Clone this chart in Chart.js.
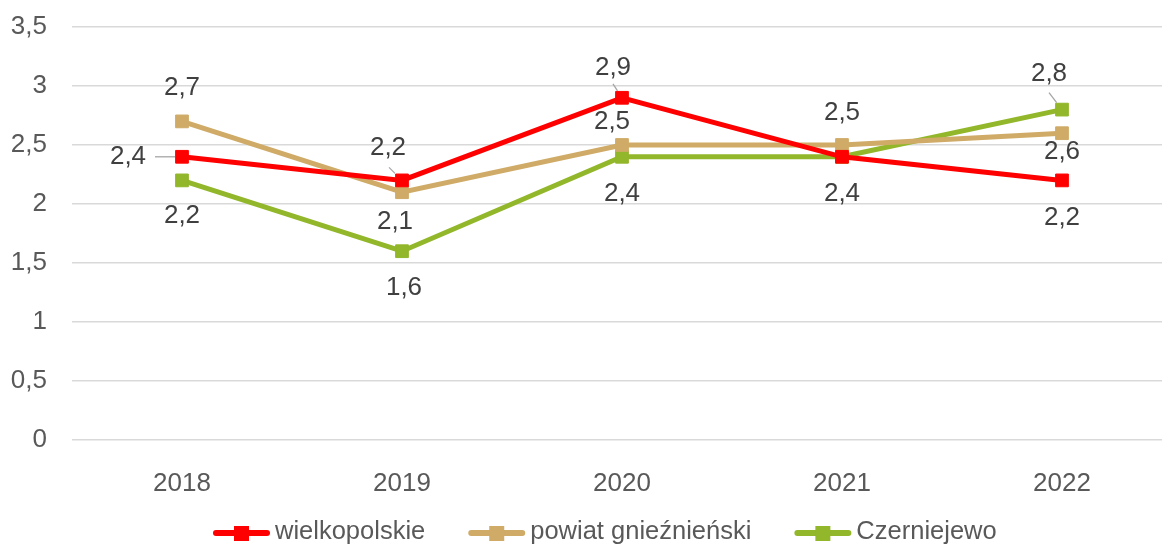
<!DOCTYPE html>
<html>
<head>
<meta charset="utf-8">
<script src="https://cdn.jsdelivr.net/npm/chart.js@4"></script>
<style>
  html, body { margin: 0; padding: 0; background: #fff; overflow: hidden; }
  #wrap { position: absolute; left: 0; top: 0; width: 1175px; height: 544px; }
</style>
</head>
<body>
<div id="wrap"><canvas id="mainChart"></canvas></div>
<script>
// ============ DATA ============

const years = ['2018', '2019', '2020', '2021', '2022'];
const seriesNames = ['wielkopolskie', 'powiat gnieźnieński', 'Czerniejewo'];
const wielkopolskie = [2.4, 2.2, 2.9, 2.4, 2.2];
const powiatGniezn = [2.7, 2.1, 2.5, 2.5, 2.6];
const czerniejewo = [2.2, 1.6, 2.4, 2.4, 2.8];
const yTicks = [0, 0.5, 1, 1.5, 2, 2.5, 3, 3.5];

// ============ STYLE ============

const colors = ['#ff0000', '#cfab67', '#92b72a'];
const FONT = "'Liberation Sans', Arial, sans-serif";

// label offset from its point: [dx, dy, leaderStartDx, leaderStartDy]
const labelOffsets = [
    [[-54, 0, -27, 0], [-14, -32, -13, -13], [-9, -30, -9, -14], [0, 37], [0, 38]],
    [[0, -33], [-7, 30], [-10, -23], [0, -32], [0, 19]],
    [[0, 36], [2, 37], [0, 37], [0, 37], [-13, -36, -13, -17]]
];

const fmt = v => String(v).replace('.', ',');

// ============ PLUGINS ============

const dataLabels = {
    id: 'dataLabels',
    afterDatasetsDraw(chart) {
        const ctx = chart.ctx;
        const drawn = new Set();
        ctx.save();
        ctx.font = '26px ' + FONT;
        ctx.textAlign = 'center';
        ctx.textBaseline = 'middle';
        chart.data.datasets.forEach((ds, i) => {
            const meta = chart.getDatasetMeta(i);
            meta.data.forEach((pt, j) => {
                const off = labelOffsets[i][j];
                if (off.length > 2) {
                    const sx = off[2], sy = off[3];
                    const k = 7 / Math.max(Math.abs(sx), Math.abs(sy));
                    ctx.strokeStyle = '#a6a6a6';
                    ctx.lineWidth = 1.3;
                    ctx.beginPath();
                    ctx.moveTo(pt.x + sx, pt.y + sy);
                    ctx.lineTo(pt.x + sx * k, pt.y + sy * k);
                    ctx.stroke();
                }
                const lx = Math.round(pt.x + off[0]), ly = Math.round(pt.y + off[1]);
                const key = fmt(ds.data[j]) + '@' + lx + ',' + ly;
                if (drawn.has(key)) return;   // overlapping labels (2021) print once
                drawn.add(key);
                ctx.fillStyle = '#404040';
                ctx.fillText(fmt(ds.data[j]), lx, ly);
            });
        });
        ctx.restore();
    }
};

const bottomLegend = {
    id: 'bottomLegend',
    afterDraw(chart) {
        const ctx = chart.ctx;
        const cy = 533;
        let x = 213;
        ctx.save();
        ctx.font = '25.5px ' + FONT;
        ctx.textBaseline = 'alphabetic';
        chart.data.datasets.forEach((ds) => {
            ctx.strokeStyle = ds.borderColor;
            ctx.lineWidth = 6;
            ctx.lineCap = 'round';
            ctx.beginPath();
            ctx.moveTo(x + 3, cy);
            ctx.lineTo(x + 54, cy);
            ctx.stroke();
            ctx.fillStyle = ds.borderColor;
            ctx.fillRect(x + 21, cy - 7, 15, 15);
            const tx = x + 62;
            ctx.fillStyle = '#595959';
            ctx.fillText(ds.label, tx, 539);
            x = tx + ctx.measureText(ds.label).width + 43;
        });
        ctx.restore();
    }
};

// ============ CHART ============

function makeDataset(label, data, color) {
    return {
        label: label,
        data: data,
        borderColor: color,
        backgroundColor: color,
        borderWidth: 5,
        pointStyle: 'rect',
        pointRadius: 9,
        pointBorderWidth: 1,
        pointBackgroundColor: color,
        pointBorderColor: color,
        tension: 0
    };
}

const chart = new Chart(document.getElementById('mainChart').getContext('2d'), {
    type: 'line',
    data: {
        labels: years,
        datasets: [
            makeDataset(seriesNames[0], wielkopolskie, colors[0]),
            makeDataset(seriesNames[1], powiatGniezn, colors[1]),
            makeDataset(seriesNames[2], czerniejewo, colors[2])
        ]
    },
    options: {
        responsive: true,
        maintainAspectRatio: false,
        animation: false,
        // plot area runs a little past the visible right edge, as in the original
        layout: { autoPadding: false, padding: { left: 0, right: 3, top: 27, bottom: 44 } },
        scales: {
            x: {
                offset: true,
                grid: { display: false },
                border: { display: false },
                ticks: { color: '#595959', font: { family: FONT, size: 26 }, padding: 20 },
                afterFit(scale) {
                    scale.height = 60;
                    scale.paddingLeft = 0;
                    scale.paddingRight = 0;
                }
            },
            y: {
                min: 0,
                max: 3.5,
                afterBuildTicks(scale) { scale.ticks = yTicks.map(v => ({ value: v })); },
                grid: { color: '#d9d9d9', lineWidth: 1.5, drawTicks: false },
                border: { display: false },
                ticks: {
                    color: '#595959',
                    font: { family: FONT, size: 26 },
                    padding: 25,
                    callback: v => fmt(v)
                },
                afterFit(scale) {
                    scale.width = 72;
                    scale.paddingTop = 0;
                    scale.paddingBottom = 0;
                }
            }
        },
        plugins: {
            legend: { display: false },
            tooltip: { enabled: false }
        }
    },
    plugins: [dataLabels, bottomLegend]
});
</script>
</body>
</html>
